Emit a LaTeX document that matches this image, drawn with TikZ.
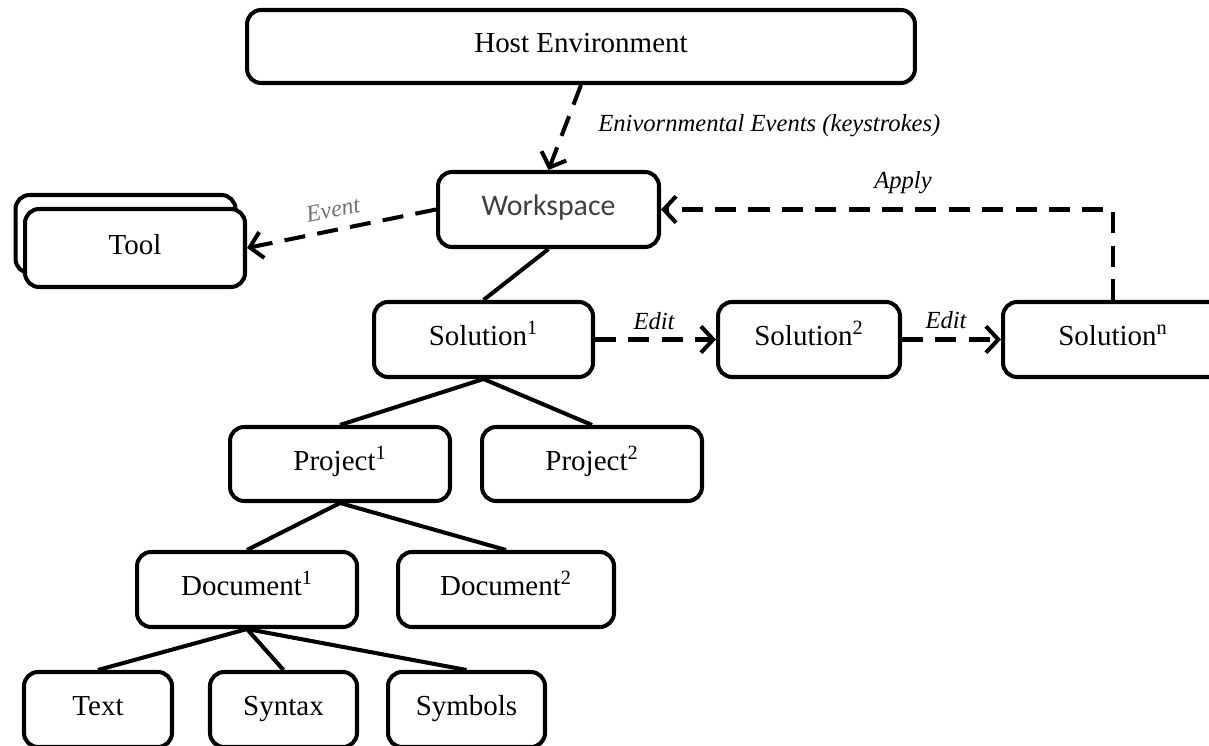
\documentclass[tikz,border=0pt]{standalone}
\usepackage{fontspec}
\setmainfont{Liberation Serif}
\newfontfamily\wsfont{Carlito}
\usetikzlibrary{arrows.meta}

\definecolor{wsgrey}{HTML}{404040}
\definecolor{evgrey}{HTML}{707070}

\tikzset{
  box/.style={draw, line width=2.3pt, rounded corners=8pt, fill=white,
    minimum height=1.5cm, inner sep=0pt, text height=12pt, text depth=5pt,
    font=\fontsize{16.5}{19}\selectfont},
  tree/.style={line width=2.3pt},
  flow/.style={line width=2.3pt, dash pattern=on 12pt off 7pt,
    -{Straight Barb[length=7pt,width=15pt]}},
  lbl/.style={font=\fontsize{14}{16}\selectfont\itshape, inner sep=0pt},
}

\begin{document}
\begin{tikzpicture}[x=0.02cm, y=-0.02cm]

\def\yhost{46.5}; % host row
\def\yws{209.5}; % workspace row
\def\ysol{339.5}; % solutions
\def\yproj{464}; % projects
\def\ydoc{589.5}; % documents
\def\yleaf{709.5}; % leaves

\useasboundingbox (0,0) rectangle (1209,746);
\clip (0,0) rectangle (1209,746);

\node[box, minimum width=13.36cm, minimum height=1.46cm] (host) at (581,\yhost) {Host Environment};
\node[box, minimum width=4.42cm, font=\wsfont\fontsize{17}{20}\selectfont, text=wsgrey] (ws) at (548.5,\yws) {Workspace};

% stacked tools
\node[box, minimum width=4.4cm, minimum height=1.56cm] (toolback) at (125.5,234) {};
\node[box, minimum width=4.4cm, minimum height=1.56cm] (tool) at (135,248) {Tool};

\node[box, minimum width=4.38cm] (sol1) at (483.5,\ysol) {Solution\textsuperscript{1}};
\node[box, minimum width=3.64cm] (sol2) at (809,\ysol) {Solution\textsuperscript{2}};
\node[box, minimum width=4.4cm] (soln) at (1113,\ysol) {Solution\textsuperscript{n}};

\node[box, minimum width=4.4cm, minimum height=1.48cm] (proj1) at (340,\yproj) {Project\textsuperscript{1}};
\node[box, minimum width=4.4cm, minimum height=1.48cm] (proj2) at (592,\yproj) {Project\textsuperscript{2}};

\node[box, minimum width=4.4cm] (doc1) at (247,\ydoc) {Document\textsuperscript{1}};
\node[box, minimum width=4.32cm] (doc2) at (506,\ydoc) {Document\textsuperscript{2}};

\node[box, minimum width=2.96cm] (text) at (98,\yleaf) {Text};
\node[box, minimum width=2.94cm] (syntax) at (283.5,\yleaf) {Syntax};
\node[box, minimum width=3.14cm] (symbols) at (466.5,\yleaf) {Symbols};

% tree
\draw[tree] (ws.south) -- (sol1.north);
\draw[tree] (sol1.south) -- (proj1.north);
\draw[tree] (sol1.south) -- (proj2.north);
\draw[tree] (proj1.south) -- (doc1.north);
\draw[tree] (proj1.south) -- (doc2.north);
\draw[tree] (doc1.south) -- (text.north);
\draw[tree] (doc1.south) -- (syntax.north);
\draw[tree] (doc1.south) -- (symbols.north);

% events and edits
\draw[flow] (host.south) -- (ws.north);
\draw[flow] (ws.west) -- (tool.east);
\draw[flow] (sol1.east) -- (sol2.west);
\draw[flow] (sol2.east) -- (soln.west);
\draw[flow] (soln.north) |- (ws.east);

\node[lbl, anchor=west] (envlbl) at (598,126) {Enivornmental Events (keystrokes)};
\node[lbl, font=\fontsize{13.5}{15}\selectfont\itshape, text=evgrey, rotate=11] (evlbl) at (333,210) {Event};
\node[lbl] (applylbl) at (903,183) {Apply};
\node[lbl] (edit1lbl) at (654,321) {Edit};
\node[lbl] (edit2lbl) at (946,320) {Edit};

\end{tikzpicture}
\end{document}
